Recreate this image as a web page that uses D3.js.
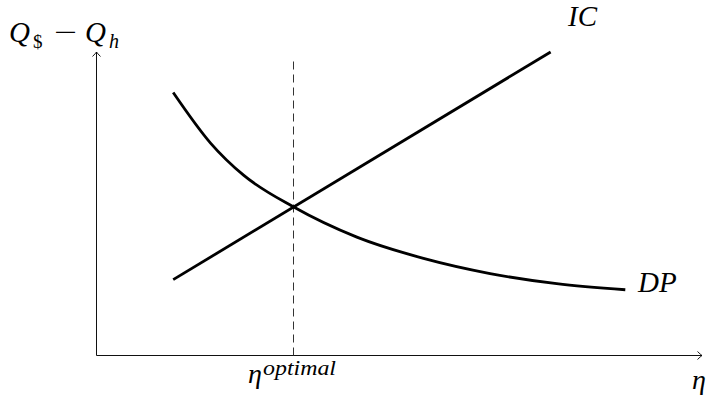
<!DOCTYPE html>
<html>
<head>
<meta charset="utf-8">
<script src="https://cdn.jsdelivr.net/npm/d3@7"></script>
<style>
  body { margin: 0; background: #fff; }
</style>
</head>
<body>
<svg id="chart" width="709" height="408"></svg>
<script>
// IC line: two end points (eta, Q$ - Qh)
const icPoints = [[0.76, 0.75], [4.50, 3.00]];

// DP curve
const dpPoints = [
    [0.76, 2.60], [1.13, 2.10], [1.46, 1.78], [1.95, 1.47], [2.58, 1.17],
    [3.24, 0.96], [3.90, 0.81], [4.56, 0.71], [5.24, 0.65]
];

const etaOptimal = 1.95;
const xDomain = [0, 6];
const yDomain = [0, 3];

const serif = "'Liberation Serif', 'Times New Roman', 'DejaVu Serif', serif";

const svg = d3.select("#chart");

const x = d3.scaleLinear().domain(xDomain).range([96.5, 702]);
const y = d3.scaleLinear().domain(yDomain).range([355.5, 52]);

// arrow head like tikz "->"
svg.append("defs").append("marker")
    .attr("id", "arrow")
    .attr("viewBox", "-6 -5 8 10")
    .attr("refX", 0)
    .attr("refY", 0)
    .attr("markerWidth", 8)
    .attr("markerHeight", 10)
    .attr("markerUnits", "userSpaceOnUse")
    .attr("orient", "auto")
    .append("path")
    .attr("d", "M-4.5,-4 Q-1.5,-1 0,0 Q-1.5,1 -4.5,4")
    .attr("fill", "none")
    .attr("stroke", "#000")
    .attr("stroke-width", 0.9);

// axes
svg.append("line")
    .attr("x1", x(0)).attr("y1", y(0))
    .attr("x2", x(xDomain[1])).attr("y2", y(0))
    .attr("stroke", "#111").attr("stroke-width", 1)
    .attr("marker-end", "url(#arrow)");

svg.append("line")
    .attr("x1", x(0)).attr("y1", y(0))
    .attr("x2", x(0)).attr("y2", y(yDomain[1]))
    .attr("stroke", "#111").attr("stroke-width", 1)
    .attr("marker-end", "url(#arrow)");

// dashed line at the optimum
svg.append("line")
    .attr("x1", Math.round(x(etaOptimal)) + 0.5).attr("y1", y(0))
    .attr("x2", Math.round(x(etaOptimal)) + 0.5).attr("y2", y(2.93))
    .attr("stroke", "#333").attr("stroke-width", 1)
    .attr("stroke-dasharray", "8,5");

const line = d3.line()
    .x(d => x(d[0]))
    .y(d => y(d[1]));

svg.append("path")
    .datum(icPoints)
    .attr("fill", "none")
    .attr("stroke", "#000")
    .attr("stroke-width", 2.8)
    .attr("d", line);

svg.append("path")
    .datum(dpPoints)
    .attr("fill", "none")
    .attr("stroke", "#000")
    .attr("stroke-width", 2.8)
    .attr("d", line.curve(d3.curveMonotoneX));

// labels
function label(tx, ty, str, size, italic) {
    return svg.append("text")
        .attr("x", tx).attr("y", ty)
        .attr("font-family", serif)
        .attr("font-size", size)
        .attr("font-style", italic ? "italic" : "normal")
        .attr("fill", "#000")
        .text(str);
}

// y axis title: Q$ - Qh
label(9, 42, "Q", 29, true);
label(33, 48, "$", 19, false);
label(54, 42, "\u2212", 29, false).attr("textLength", 23).attr("lengthAdjust", "spacingAndGlyphs");
label(85, 42, "Q", 29, true);
label(109, 48, "h", 20, true);

label(568, 26, "IC", 29, true);
label(638, 292, "DP", 29, true);
label(692, 389, "\u03b7", 28, true);

// eta optimal
label(248, 383, "\u03b7", 28, true);
label(263, 375, "optimal", 20, true).attr("textLength", 73).attr("lengthAdjust", "spacingAndGlyphs");
</script>
</body>
</html>
